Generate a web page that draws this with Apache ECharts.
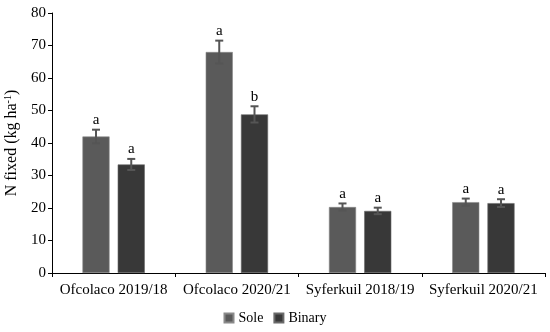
<!DOCTYPE html>
<html><head><meta charset="utf-8">
<script src="https://cdn.jsdelivr.net/npm/echarts@6/dist/echarts.min.js"></script>
<style>html,body{margin:0;padding:0;background:#fff}#c{width:550px;height:332px}</style>
</head><body><div id="c"></div>
<script>
var categories = ['Ofcolaco 2019/18', 'Ofcolaco 2020/21', 'Syferkuil 2018/19', 'Syferkuil 2020/21'];
var soleValues = [42.0, 68.0, 20.3, 21.8];
var soleErrors = [2.1, 3.5, 1.1, 1.1];
var soleLetters = ['a', 'a', 'a', 'a'];
var binaryValues = [33.4, 48.8, 19.1, 21.5];
var binaryErrors = [1.7, 2.5, 1.0, 1.2];
var binaryLetters = ['a', 'b', 'a', 'a'];
var yTicks = [0, 10, 20, 30, 40, 50, 60, 70, 80];

var font = 'Liberation Serif';
var chart = echarts.init(document.getElementById('c'));

function errSeries(name, vals, errs, letters, offsetFrac, color) {
  return {
    type: 'custom', name: name + '_err', silent: true, z: 5,
    data: vals.map(function (v, i) { return [i, v, errs[i], letters[i]]; }),
    renderItem: function (params, api) {
      var i = api.value(0), v = api.value(1), e = api.value(2);
      var band = api.size([1, 0])[0];
      var c = api.coord([i, v]);
      var x = c[0] + band * offsetFrac;
      var top = api.coord([i, v + e])[1];
      var bot = api.coord([i, v - e])[1];
      var hw = 4;
      var st = { stroke: color, lineWidth: 2 };
      return { type: 'group', children: [
        { type: 'line', shape: { x1: x, y1: top, x2: x, y2: bot }, style: st },
        { type: 'line', shape: { x1: x - hw, y1: top, x2: x + hw, y2: top }, style: st },
        { type: 'line', shape: { x1: x - hw, y1: bot, x2: x + hw, y2: bot }, style: st },
        { type: 'text', x: x, y: top - 2, style: { text: letters[i], fill: '#000', font: '15px "' + font + '"', align: 'center', verticalAlign: 'bottom' } }
      ] };
    }
  };
}

chart.setOption({
  animation: false,
  textStyle: { fontFamily: font },
  grid: { left: 52, right: 5, top: 13, bottom: 59, containLabel: false, outerBoundsMode: 'none' },
  legend: {
    bottom: 2, left: 'center', itemWidth: 9, itemHeight: 9, itemGap: 10, icon: 'rect',
    textStyle: { fontFamily: font, fontSize: 14, color: '#000' },
    data: ['Sole', 'Binary']
  },
  xAxis: {
    type: 'category', data: categories,
    axisLine: { lineStyle: { color: '#000', width: 1 } },
    axisTick: { show: true, length: 4, lineStyle: { color: '#000' } },
    axisLabel: { color: '#000', fontSize: 15, fontFamily: font, margin: 10, interval: 0 }
  },
  yAxis: {
    type: 'value', min: yTicks[0], max: yTicks[yTicks.length - 1], interval: 10,
    name: '{n|N fixed (kg ha}{s|-1}{n|)}', nameLocation: 'middle', nameGap: 30, nameRotate: 90,
    nameTextStyle: { rich: { n: { fontSize: 16, fontFamily: font, color: '#000' }, s: { fontSize: 10, fontFamily: font, color: '#000', verticalAlign: 'top', padding: [0, 0, 7, 0] } } },
    splitLine: { show: false },
    axisLine: { show: true, lineStyle: { color: '#000', width: 1 } },
    axisTick: { show: true, length: 4, lineStyle: { color: '#000' } },
    axisLabel: { color: '#000', fontSize: 15, fontFamily: font, margin: 6 }
  },
  series: [
    { name: 'Sole', type: 'bar', data: soleValues, barWidth: '22%', barGap: '30%',
      itemStyle: { color: '#5a5a5a', borderColor: '#8a8a8a', borderWidth: 0.6 } },
    { name: 'Binary', type: 'bar', data: binaryValues, barWidth: '22%', barGap: '30%',
      itemStyle: { color: '#383838', borderColor: '#6a6a6a', borderWidth: 0.6 } },
    errSeries('Sole', soleValues, soleErrors, soleLetters, -0.143, '#555'),
    errSeries('Binary', binaryValues, binaryErrors, binaryLetters, 0.143, '#555')
  ]
});
</script></body></html>
